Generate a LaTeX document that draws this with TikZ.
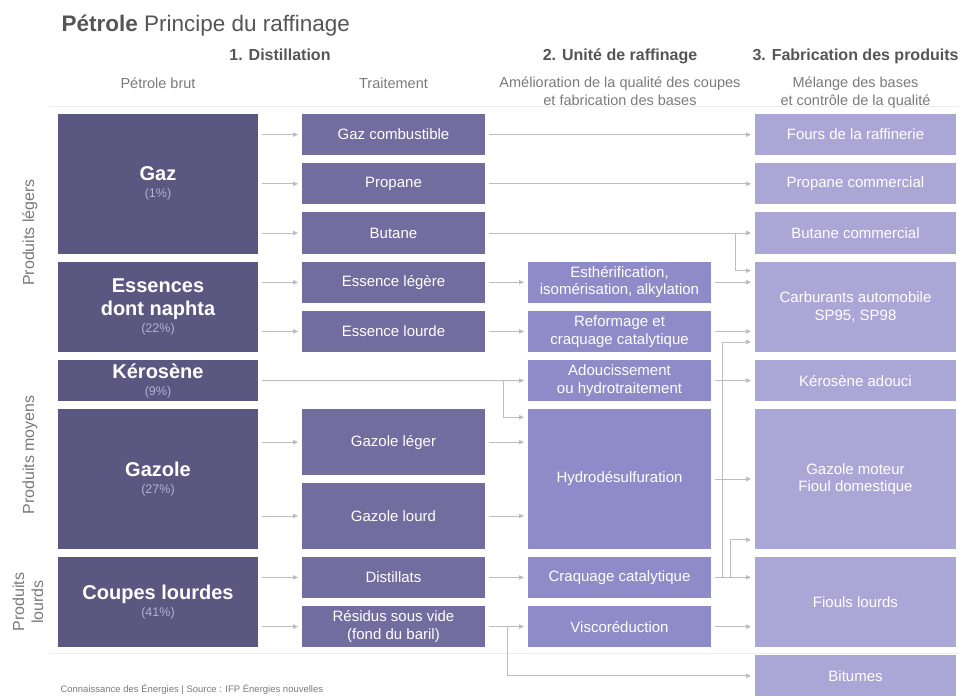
\documentclass[tikz,border=0pt]{standalone}
\usepackage{fontspec}
\setmainfont{Liberation Sans}
\usetikzlibrary{arrows.meta, positioning}

\definecolor{crudeC}{HTML}{5A5780}
\definecolor{treatC}{HTML}{716D9E}
\definecolor{unitC}{HTML}{8F8BC8}
\definecolor{prodC}{HTML}{AAA7D7}
\definecolor{shareC}{HTML}{B4B1D6}
\definecolor{flowC}{HTML}{BDBDBD}
\definecolor{headC}{HTML}{555555}
\definecolor{subC}{HTML}{7A7A7A}
\definecolor{ruleC}{HTML}{EDEDED}

\newcommand{\crude}[2]{#1\\[-6pt]{\fontsize{12.5}{14}\selectfont\mdseries\color{shareC}(#2\%)}}

\begin{document}
\begin{tikzpicture} [
						x=1pt, y=-1pt,
						node distance=8pt,
						box/.style={inner sep=0pt, outer sep=0pt, align=center, text=white, minimum height=41.2pt},
						crude/.style={box, fill=crudeC, minimum width=200pt, font=\fontsize{20}{23}\selectfont\bfseries},
						treat/.style={box, fill=treatC, minimum width=183pt, font=\fontsize{15}{17.5}\selectfont},
						unit/.style={box, fill=unitC, minimum width=183pt, font=\fontsize{15}{17.5}\selectfont},
						prod/.style={box, fill=prodC, minimum width=201pt, font=\fontsize{15}{17.5}\selectfont},
						two/.style={minimum height=90.4pt},
						three/.style={minimum height=139.6pt},
						half/.style={minimum height=65.8pt},
						colhead/.style={anchor=base, text=headC, font=\fontsize{16}{19}\selectfont\bfseries},
						subhead/.style={anchor=base, text=subC, align=center, font=\fontsize{14.5}{18}\selectfont},
						side/.style={text=subC, align=center, rotate=90, font=\fontsize{16}{19}\selectfont},
						flow/.style={draw=flowC, line width=0.8pt, -{Triangle[length=5pt,width=4.5pt]}, shorten <=4pt, shorten >=4pt}
					]

\useasboundingbox (0,0) rectangle (959,697);

% rules
\draw [ruleC] (50,106) -- (959,106);
\draw [ruleC] (50,653) -- (959,653);

% headings
\node (title) [anchor=base west, text=headC, font=\fontsize{22.5}{26}\selectfont] at (58,31) {\textbf{Pétrole} Principe du raffinage};
\node (h1) [colhead] at (280,60) {1. Distillation};
\node (h2) [colhead] at (620,60) {2. Unité de raffinage};
\node (h3) [colhead] at (855.5,60) {3. Fabrication des produits};
\node (s1) [subhead] at (158,88) {Pétrole brut};
\node (s2) [subhead] at (393.5,88) {Traitement};
\node (s3) [subhead] at (620,105) {Amélioration de la qualité des coupes\\et fabrication des bases};
\node (s4) [subhead] at (855.5,105) {Mélange des bases\\et contrôle de la qualité};

% crude oil
\node (gaz) [crude, three, anchor=north west] at (58,114) {\crude{Gaz}{1}};
\node (ess) [crude, two, below=of gaz] {\crude{Essences\\dont naphta}{22}};
\node (kero) [crude, below=of ess] {\crude{Kérosène}{9}};
\node (gazole) [crude, three, below=of kero] {\crude{Gazole}{27}};
\node (coupes) [crude, two, below=of gazole] {\crude{Coupes lourdes}{41}};

% families
\node (light) [side] at (30,232.5) {Produits légers};
\node (medium) [side] at (30,455) {Produits moyens};
\node (heavy) [side] at (28,602) {Produits\\lourds};

% treatment
\node (gc) [treat, right=44pt of gaz.north east, anchor=north west] {Gaz combustible};
\node (prop) [treat, below=of gc] {Propane};
\node (but) [treat, below=of prop] {Butane};
\node (eleg) [treat, below=of but] {Essence légère};
\node (elour) [treat, below=of eleg] {Essence lourde};
\node (gleg) [treat, half, right=44pt of gazole.north east, anchor=north west] {Gazole léger};
\node (glourd) [treat, half, below=of gleg] {Gazole lourd};
\node (dist) [treat, below=of glourd] {Distillats};
\node (resid) [treat, below=of dist] {Résidus sous vide\\(fond du baril)};

% refining units
\node (esth) [unit, right=43pt of eleg] {Esthérification,\\isomérisation, alkylation};
\node (reform) [unit, below=of esth] {Reformage et\\craquage catalytique};
\node (adouc) [unit, below=of reform] {Adoucissement\\ou hydrotraitement};
\node (hydro) [unit, three, below=of adouc] {Hydrodésulfuration};
\node (craq) [unit, below=of hydro] {Craquage catalytique};
\node (visco) [unit, below=of craq] {Viscoréduction};

% products
\node (fours) [prod, right=270pt of gc] {Fours de la raffinerie};
\node (propc) [prod, below=of fours] {Propane commercial};
\node (butc) [prod, below=of propc] {Butane commercial};
\node (carb) [prod, two, below=of butc] {Carburants automobile\\SP95, SP98};
\node (kad) [prod, below=of carb] {Kérosène adouci};
\node (gmot) [prod, three, below=of kad] {Gazole moteur\\Fioul domestique};
\node (fiouls) [prod, two, below=of gmot] {Fiouls lourds};
\node (bit) [prod, below=of fiouls] {Bitumes};

% flows
\foreach \a/\b in {gaz/gc, gaz/prop, gaz/but, ess/eleg, ess/elour, gazole/gleg, gazole/glourd, coupes/dist, coupes/resid}
	\draw [flow] (\a.east |- \b.west) -- (\b.west);
\foreach \a/\b in {eleg/esth, elour/reform, gleg/hydro, glourd/hydro, dist/craq, resid/visco,
		gc/fours, prop/propc, but/butc, esth/carb, reform/carb, adouc/kad, hydro/gmot, craq/fiouls, visco/fiouls}
	\draw [flow] (\a.east) -- (\a.east -| \b.west);
\draw [flow] (kero.east) -- (adouc.west);

% forks
\coordinate (kfork) at ([xshift=-25pt]adouc.west);
\draw [flow, shorten <=0pt] (kfork) |- ([yshift=-8pt]hydro.north west);
\draw [flow, shorten <=0pt] ([xshift=-20pt]butc.west) |- ([yshift=-9pt]carb.north west);
\draw [flow, shorten <=0pt] ([xshift=11pt]craq.east) |- ([yshift=10pt]carb.south west);
\draw [flow, shorten <=0pt] ([xshift=19pt]craq.east) |- ([yshift=9pt]gmot.south west);
\draw [flow, shorten <=0pt] ([xshift=-21pt]visco.west) |- (bit.west);

% source
\node (src) [anchor=base west, text=subC, font=\fontsize{9.5}{11}\selectfont] at (57,692) {Connaissance des Énergies | Source : IFP Énergies nouvelles};

\end{tikzpicture}
\end{document}
